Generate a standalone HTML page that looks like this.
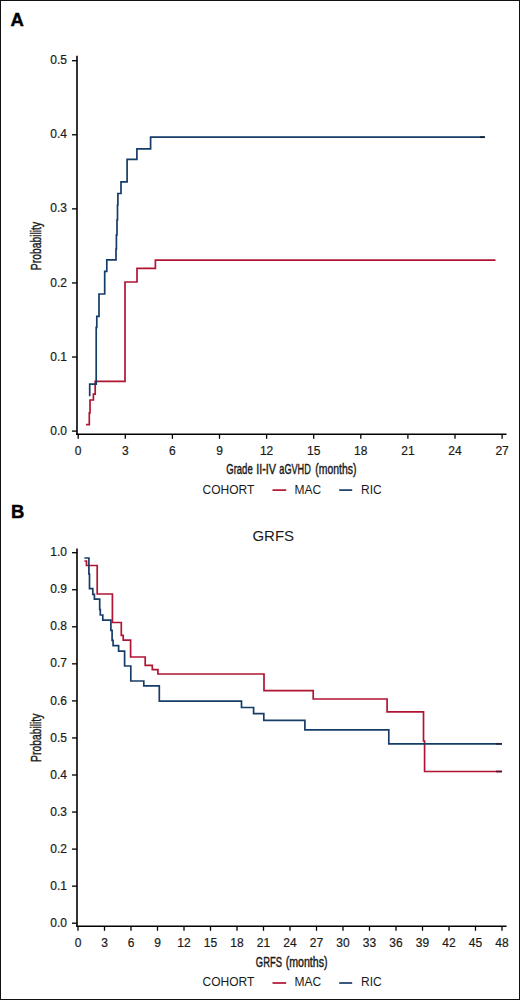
<!DOCTYPE html>
<html><head><meta charset="utf-8"><title>Chart</title>
<style>html,body{margin:0;padding:0;background:#fff;}svg{display:block;}</style>
</head><body>
<svg width="520" height="1000" viewBox="0 0 520 1000">
<style>
.t{font-family:"Liberation Sans",sans-serif;font-size:12px;fill:#1a1a1a;stroke:#1a1a1a;stroke-width:0.2px;}
.l{font-family:"Liberation Sans",sans-serif;font-size:12px;fill:#1a1a1a;}
.c{font-family:"Liberation Sans",sans-serif;font-size:14px;fill:#1a1a1a;stroke:#1a1a1a;stroke-width:0.42px;}
.b{font-family:"Liberation Sans",sans-serif;font-size:18.5px;font-weight:bold;fill:#000;stroke:#000;stroke-width:0.4px;}
</style>
<rect x="0" y="0" width="520" height="1000" fill="#fff"/>
<rect x="0.5" y="0.5" width="519" height="999" fill="none" stroke="#111" stroke-width="1"/>
<text x="10.5" y="25.6" class="b">A</text>
<text x="10.9" y="518.3" class="b">B</text>
<line x1="77" y1="55.8" x2="77" y2="435.1" stroke="#000" stroke-width="1.6"/>
<line x1="76.2" y1="434.3" x2="506.5" y2="434.3" stroke="#000" stroke-width="1.6"/>
<line x1="72" y1="60.7" x2="77" y2="60.7" stroke="#000" stroke-width="1.3"/>
<text x="67" y="64.30" text-anchor="end" class="t">0.5</text>
<line x1="72" y1="134.78" x2="77" y2="134.78" stroke="#000" stroke-width="1.3"/>
<text x="67" y="138.38" text-anchor="end" class="t">0.4</text>
<line x1="72" y1="208.86" x2="77" y2="208.86" stroke="#000" stroke-width="1.3"/>
<text x="67" y="212.46" text-anchor="end" class="t">0.3</text>
<line x1="72" y1="282.94" x2="77" y2="282.94" stroke="#000" stroke-width="1.3"/>
<text x="67" y="286.54" text-anchor="end" class="t">0.2</text>
<line x1="72" y1="357.02" x2="77" y2="357.02" stroke="#000" stroke-width="1.3"/>
<text x="67" y="360.62" text-anchor="end" class="t">0.1</text>
<line x1="72" y1="431.09999999999997" x2="77" y2="431.09999999999997" stroke="#000" stroke-width="1.3"/>
<text x="67" y="434.70" text-anchor="end" class="t">0.0</text>
<line x1="78.20" y1="434.3" x2="78.20" y2="438.8" stroke="#000" stroke-width="1.3"/>
<text x="78.20" y="454.6" text-anchor="middle" class="t">0</text>
<line x1="125.30" y1="434.3" x2="125.30" y2="438.8" stroke="#000" stroke-width="1.3"/>
<text x="125.30" y="454.6" text-anchor="middle" class="t">3</text>
<line x1="172.40" y1="434.3" x2="172.40" y2="438.8" stroke="#000" stroke-width="1.3"/>
<text x="172.40" y="454.6" text-anchor="middle" class="t">6</text>
<line x1="219.50" y1="434.3" x2="219.50" y2="438.8" stroke="#000" stroke-width="1.3"/>
<text x="219.50" y="454.6" text-anchor="middle" class="t">9</text>
<line x1="266.60" y1="434.3" x2="266.60" y2="438.8" stroke="#000" stroke-width="1.3"/>
<text x="266.60" y="454.6" text-anchor="middle" class="t">12</text>
<line x1="313.70" y1="434.3" x2="313.70" y2="438.8" stroke="#000" stroke-width="1.3"/>
<text x="313.70" y="454.6" text-anchor="middle" class="t">15</text>
<line x1="360.80" y1="434.3" x2="360.80" y2="438.8" stroke="#000" stroke-width="1.3"/>
<text x="360.80" y="454.6" text-anchor="middle" class="t">18</text>
<line x1="407.90" y1="434.3" x2="407.90" y2="438.8" stroke="#000" stroke-width="1.3"/>
<text x="407.90" y="454.6" text-anchor="middle" class="t">21</text>
<line x1="455.00" y1="434.3" x2="455.00" y2="438.8" stroke="#000" stroke-width="1.3"/>
<text x="455.00" y="454.6" text-anchor="middle" class="t">24</text>
<line x1="502.10" y1="434.3" x2="502.10" y2="438.8" stroke="#000" stroke-width="1.3"/>
<text x="502.10" y="454.6" text-anchor="middle" class="t">27</text>
<text class="c" transform="translate(40.7,270.15) rotate(-90)" textLength="48.27" lengthAdjust="spacingAndGlyphs">Probability</text>
<text x="226.22" y="474.4" class="c" textLength="26.50" lengthAdjust="spacingAndGlyphs">Grade</text><text x="256.20" y="474.4" class="c" textLength="19.85" lengthAdjust="spacingAndGlyphs">II-IV</text><text x="279.31" y="474.4" class="c" textLength="31.53" lengthAdjust="spacingAndGlyphs">aGVHD</text><text x="315.36" y="474.4" class="c" textLength="40.99" lengthAdjust="spacingAndGlyphs">(months)</text>
<text x="202.5" y="493.8" class="l">COHORT</text>
<line x1="272.5" y1="490.1" x2="286.2" y2="490.1" stroke="#b01433" stroke-width="1.7"/>
<text x="294.5" y="493.8" class="l">MAC</text>
<line x1="339.2" y1="490.1" x2="352.2" y2="490.1" stroke="#163c68" stroke-width="1.7"/>
<text x="361" y="493.8" class="l">RIC</text>
<polyline points="86.1,424.7 89.3,424.7 89.3,412.9 90,412.9 90,400 93.4,400 93.4,394.2 95.2,394.2 95.2,381.4 125,381.4 125,282 137,282 137,268.3 155.4,268.3 155.4,260.2 495.5,260.2" fill="none" stroke="#b01433" stroke-width="1.7" stroke-linejoin="miter" stroke-linecap="butt"/>
<polyline points="89.7,396.2 89.7,384.2 96.2,384.2 96.2,327.3 96.8,327.3 96.8,316.3 99,316.3 99,294 104.7,294 104.7,271.3 106.8,271.3 106.8,259.8 116,259.8 116,249 116.4,249 116.4,235 117,235 117,220 117.5,220 117.5,205 117.9,205 117.9,193.5 121,193.5 121,181.9 127.1,181.9 127.1,159.4 136.9,159.4 136.9,148.9 150.6,148.9 150.6,137.2 484.8,137.2" fill="none" stroke="#163c68" stroke-width="1.7" stroke-linejoin="miter" stroke-linecap="butt"/>
<line x1="480" y1="137.2" x2="484.8" y2="137.2" stroke="#0d1c30" stroke-width="1.7"/>
<text x="273.3" y="540.5" text-anchor="middle" style="font-family:'Liberation Sans',sans-serif;font-size:15px;fill:#1a1a1a">GRFS</text>
<line x1="77" y1="548.5" x2="77" y2="927.0999999999999" stroke="#000" stroke-width="1.6"/>
<line x1="76.2" y1="926.3" x2="506.5" y2="926.3" stroke="#000" stroke-width="1.6"/>
<line x1="72" y1="552.7" x2="77" y2="552.7" stroke="#000" stroke-width="1.3"/>
<text x="67" y="556.30" text-anchor="end" class="t">1.0</text>
<line x1="72" y1="589.75" x2="77" y2="589.75" stroke="#000" stroke-width="1.3"/>
<text x="67" y="593.35" text-anchor="end" class="t">0.9</text>
<line x1="72" y1="626.8000000000001" x2="77" y2="626.8000000000001" stroke="#000" stroke-width="1.3"/>
<text x="67" y="630.40" text-anchor="end" class="t">0.8</text>
<line x1="72" y1="663.85" x2="77" y2="663.85" stroke="#000" stroke-width="1.3"/>
<text x="67" y="667.45" text-anchor="end" class="t">0.7</text>
<line x1="72" y1="700.9000000000001" x2="77" y2="700.9000000000001" stroke="#000" stroke-width="1.3"/>
<text x="67" y="704.50" text-anchor="end" class="t">0.6</text>
<line x1="72" y1="737.95" x2="77" y2="737.95" stroke="#000" stroke-width="1.3"/>
<text x="67" y="741.55" text-anchor="end" class="t">0.5</text>
<line x1="72" y1="775.0" x2="77" y2="775.0" stroke="#000" stroke-width="1.3"/>
<text x="67" y="778.60" text-anchor="end" class="t">0.4</text>
<line x1="72" y1="812.05" x2="77" y2="812.05" stroke="#000" stroke-width="1.3"/>
<text x="67" y="815.65" text-anchor="end" class="t">0.3</text>
<line x1="72" y1="849.1" x2="77" y2="849.1" stroke="#000" stroke-width="1.3"/>
<text x="67" y="852.70" text-anchor="end" class="t">0.2</text>
<line x1="72" y1="886.1500000000001" x2="77" y2="886.1500000000001" stroke="#000" stroke-width="1.3"/>
<text x="67" y="889.75" text-anchor="end" class="t">0.1</text>
<line x1="72" y1="923.2" x2="77" y2="923.2" stroke="#000" stroke-width="1.3"/>
<text x="67" y="926.80" text-anchor="end" class="t">0.0</text>
<line x1="78.00" y1="926.3" x2="78.00" y2="930.8" stroke="#000" stroke-width="1.3"/>
<text x="78.00" y="946.6" text-anchor="middle" class="t">0</text>
<line x1="104.50" y1="926.3" x2="104.50" y2="930.8" stroke="#000" stroke-width="1.3"/>
<text x="104.50" y="946.6" text-anchor="middle" class="t">3</text>
<line x1="131.00" y1="926.3" x2="131.00" y2="930.8" stroke="#000" stroke-width="1.3"/>
<text x="131.00" y="946.6" text-anchor="middle" class="t">6</text>
<line x1="157.50" y1="926.3" x2="157.50" y2="930.8" stroke="#000" stroke-width="1.3"/>
<text x="157.50" y="946.6" text-anchor="middle" class="t">9</text>
<line x1="184.00" y1="926.3" x2="184.00" y2="930.8" stroke="#000" stroke-width="1.3"/>
<text x="184.00" y="946.6" text-anchor="middle" class="t">12</text>
<line x1="210.50" y1="926.3" x2="210.50" y2="930.8" stroke="#000" stroke-width="1.3"/>
<text x="210.50" y="946.6" text-anchor="middle" class="t">15</text>
<line x1="237.00" y1="926.3" x2="237.00" y2="930.8" stroke="#000" stroke-width="1.3"/>
<text x="237.00" y="946.6" text-anchor="middle" class="t">18</text>
<line x1="263.50" y1="926.3" x2="263.50" y2="930.8" stroke="#000" stroke-width="1.3"/>
<text x="263.50" y="946.6" text-anchor="middle" class="t">21</text>
<line x1="290.00" y1="926.3" x2="290.00" y2="930.8" stroke="#000" stroke-width="1.3"/>
<text x="290.00" y="946.6" text-anchor="middle" class="t">24</text>
<line x1="316.50" y1="926.3" x2="316.50" y2="930.8" stroke="#000" stroke-width="1.3"/>
<text x="316.50" y="946.6" text-anchor="middle" class="t">27</text>
<line x1="343.00" y1="926.3" x2="343.00" y2="930.8" stroke="#000" stroke-width="1.3"/>
<text x="343.00" y="946.6" text-anchor="middle" class="t">30</text>
<line x1="369.50" y1="926.3" x2="369.50" y2="930.8" stroke="#000" stroke-width="1.3"/>
<text x="369.50" y="946.6" text-anchor="middle" class="t">33</text>
<line x1="396.00" y1="926.3" x2="396.00" y2="930.8" stroke="#000" stroke-width="1.3"/>
<text x="396.00" y="946.6" text-anchor="middle" class="t">36</text>
<line x1="422.50" y1="926.3" x2="422.50" y2="930.8" stroke="#000" stroke-width="1.3"/>
<text x="422.50" y="946.6" text-anchor="middle" class="t">39</text>
<line x1="449.00" y1="926.3" x2="449.00" y2="930.8" stroke="#000" stroke-width="1.3"/>
<text x="449.00" y="946.6" text-anchor="middle" class="t">42</text>
<line x1="475.50" y1="926.3" x2="475.50" y2="930.8" stroke="#000" stroke-width="1.3"/>
<text x="475.50" y="946.6" text-anchor="middle" class="t">45</text>
<line x1="502.00" y1="926.3" x2="502.00" y2="930.8" stroke="#000" stroke-width="1.3"/>
<text x="502.00" y="946.6" text-anchor="middle" class="t">48</text>
<text class="c" transform="translate(40.7,761.95) rotate(-90)" textLength="48.27" lengthAdjust="spacingAndGlyphs">Probability</text>
<text x="255.83" y="966.6" class="c" textLength="26.10" lengthAdjust="spacingAndGlyphs">GRFS</text><text x="285.64" y="966.6" class="c" textLength="41.92" lengthAdjust="spacingAndGlyphs">(months)</text>
<text x="202.5" y="986.4" class="l">COHORT</text>
<line x1="272.5" y1="983" x2="286.2" y2="983" stroke="#b01433" stroke-width="1.7"/>
<text x="294.5" y="986.4" class="l">MAC</text>
<line x1="339.2" y1="983" x2="352.2" y2="983" stroke="#163c68" stroke-width="1.7"/>
<text x="361" y="986.4" class="l">RIC</text>
<polyline points="84.4,561 86.5,561 86.5,565.5 97.2,565.5 97.2,594 112.4,594 112.4,622.5 121.3,622.5 121.3,635.4 123.2,635.4 123.2,640.2 130.6,640.2 130.6,657 145.2,657 145.2,665.3 152.3,665.3 152.3,669.7 157.9,669.7 157.9,674 264,674 264,690.6 313.2,690.6 313.2,699 387.1,699 387.1,711.9 423.5,711.9 423.5,741 424.6,741 424.6,771.5 501.9,771.5" fill="none" stroke="#b01433" stroke-width="1.7" stroke-linejoin="miter" stroke-linecap="butt"/>
<polyline points="84.4,558 88.9,558 88.9,574 89.5,574 89.5,588.6 92.8,588.6 92.8,594.4 94.4,594.4 94.4,599.2 99.7,599.2 99.7,609.5 100.3,609.5 100.3,615 102.8,615 102.8,620.2 110.9,620.2 110.9,630.4 112.1,630.4 112.1,640.4 113.1,640.4 113.1,645.7 118.6,645.7 118.6,651.1 124.6,651.1 124.6,666 130.8,666 130.8,681 143.8,681 143.8,685.9 159.3,685.9 159.3,701.2 241.5,701.2 241.5,707.5 253.6,707.5 253.6,713.7 263.8,713.7 263.8,720.4 304.9,720.4 304.9,729.9 388.8,729.9 388.8,743.8 501.9,743.8" fill="none" stroke="#163c68" stroke-width="1.7" stroke-linejoin="miter" stroke-linecap="butt"/>
<line x1="496" y1="743.8" x2="501.9" y2="743.8" stroke="#1c2838" stroke-width="1.7"/>
<line x1="496" y1="771.5" x2="501.9" y2="771.5" stroke="#5a1025" stroke-width="1.7"/>
</svg>
</body></html>
